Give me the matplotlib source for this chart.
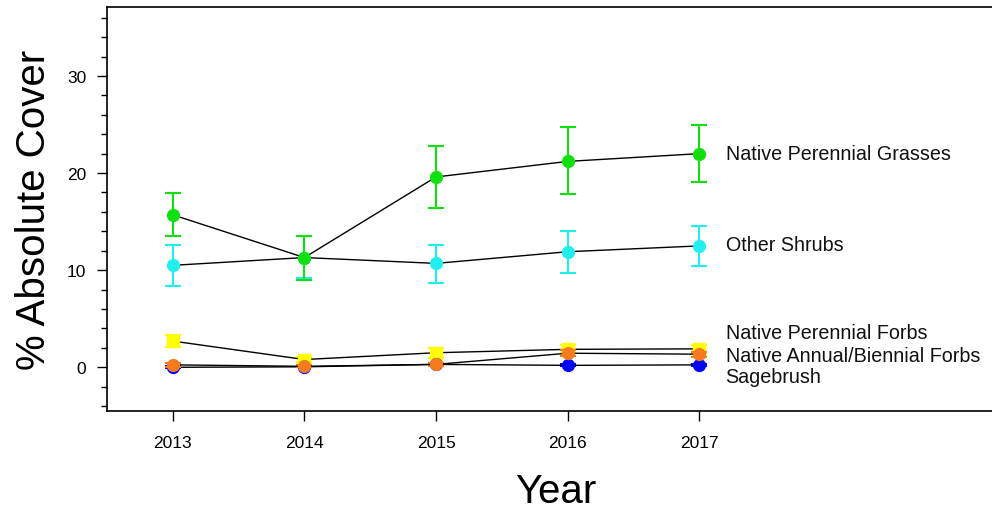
import matplotlib.pyplot as plt
import numpy as np

plt.rcParams['font.family'] = ['Liberation Sans', 'DejaVu Sans']

years = np.array([2013, 2014, 2015, 2016, 2017])

# mean % cover and error (upper / lower)
grasses = [15.7, 11.3, 19.6, 21.2, 22.0]
grasses_lo = [2.2, 2.3, 3.2, 3.4, 2.9]
grasses_hi = [2.2, 2.2, 3.2, 3.5, 3.0]

shrubs = [10.5, 11.3, 10.7, 11.9, 12.5]
shrubs_lo = [2.1, 2.1, 2.0, 2.2, 2.1]
shrubs_hi = [2.1, 2.2, 1.9, 2.1, 2.0]

forbs = [2.7, 0.8, 1.5, 1.85, 1.9]
forbs_err = [0.65, 0.3, 0.5, 0.4, 0.4]

annual = [0.25, 0.1, 0.3, 1.45, 1.35]
annual_err = [0.2, 0.1, 0.15, 0.3, 0.25]

sage = [0.0, 0.05, 0.3, 0.2, 0.25]
sage_err = [0.1, 0.05, 0.1, 0.1, 0.1]

labels = ["Native Perennial Grasses", "Other Shrubs", "Native Perennial Forbs",
          "Native Annual/Biennial Forbs", "Sagebrush"]
label_y = [22.0, 12.6, 3.6, 1.25, -0.9]

fig = plt.figure(figsize=(9.92, 5.1), dpi=100)
ax = fig.add_axes([107/992, 1 - 412/510, 1 - 107/992 + 0.01, 404/510])

def series(y, err, color, marker, z):
    ax.errorbar(years, y, yerr=err, fmt='none', ecolor=color, elinewidth=1.5,
                capsize=6, capthick=1.5, zorder=z)
    ax.plot(years, y, color='black', lw=1, zorder=z + 0.1)
    ax.plot(years, y, linestyle='none', marker=marker, markersize=8.5,
            markerfacecolor=color, markeredgecolor=color, zorder=z + 0.2)

series(forbs, forbs_err, '#ffff00', 's', 2)
series(sage, sage_err, '#0000ff', 'o', 3)
series(annual, annual_err, '#f57c1e', 'o', 4)
series(shrubs, [shrubs_lo, shrubs_hi], '#22eeee', 'o', 5)
series(grasses, [grasses_lo, grasses_hi], '#10e010', 'o', 6)

for lab, yy in zip(labels, label_y):
    ax.text(2017.2, yy, lab, fontsize=14.2, va='center', ha='left', color='#111111')

ax.set_xlim(2012.5, 2019.3)
ax.set_ylim(-4.5, 37.1)
ax.set_xticks(years)
ax.set_yticks([0, 10, 20, 30])
ax.set_yticks(np.arange(-4, 37, 2), minor=True)
ax.tick_params(axis='both', labelsize=12.5, direction='out', length=7, width=1)
ax.tick_params(axis='x', pad=10)
ax.tick_params(axis='y', pad=8)
ax.tick_params(axis='y', which='minor', length=4, width=1)
ax.spines['right'].set_visible(False)
for s in ['left', 'top', 'bottom']:
    ax.spines[s].set_linewidth(1.2)

ax.set_ylabel("% Absolute Cover", fontsize=29, labelpad=10)
fig.text(556/992, 1 - 492/510, "Year", fontsize=29, ha='center', va='center')

fig.savefig("out.png", dpi=100)
